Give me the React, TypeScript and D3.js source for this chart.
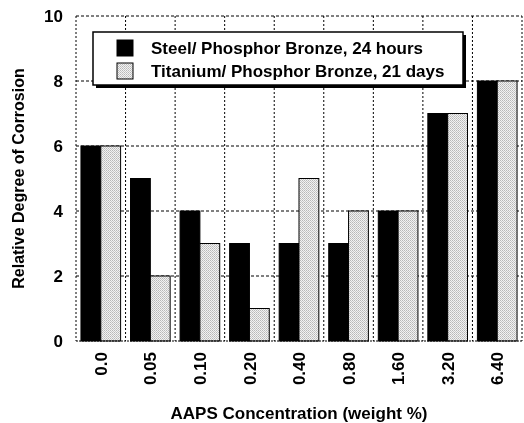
import { useRef, useEffect } from 'react';
import * as d3 from 'd3';

const categories = ["0.0", "0.05", "0.10", "0.20", "0.40", "0.80", "1.60", "3.20", "6.40"];
const steelValues = [6, 5, 4, 3, 3, 3, 4, 7, 8];
const titaniumValues = [6, 2, 3, 1, 5, 4, 4, 7, 8];
const seriesNames = ["Steel/ Phosphor Bronze, 24 hours", "Titanium/ Phosphor Bronze, 21 days"];
const yTicks = [0, 2, 4, 6, 8, 10];

const FONT = "'Liberation Sans', Arial, Helvetica, sans-serif";

export default function App() {
  const svgRef = useRef<SVGSVGElement | null>(null);

  useEffect(() => {
    const width = 524, height = 423;
    const margin = { top: 16, right: 2, bottom: 82, left: 76 };
    const innerWidth = width - margin.left - margin.right;
    const innerHeight = height - margin.top - margin.bottom;

    d3.select(svgRef.current).selectAll("*").remove();
    const svg = d3.select(svgRef.current)
      .attr("width", width)
      .attr("height", height);

    // pattern for titanium bars
    const defs = svg.append("defs");
    const pat = defs.append("pattern")
      .attr("id", "tiPat")
      .attr("width", 2)
      .attr("height", 2)
      .attr("patternUnits", "userSpaceOnUse");
    pat.append("rect").attr("width", 2).attr("height", 2).attr("fill", "#f2f2f2");
    pat.append("rect").attr("width", 1).attr("height", 1).attr("fill", "#b8b8b8");
    pat.append("rect").attr("x", 1).attr("y", 1).attr("width", 1).attr("height", 1).attr("fill", "#c8c8c8");

    const g = svg.append("g")
      .attr("transform", `translate(${margin.left},${margin.top})`);

    const xScale = d3.scaleBand<string>()
      .domain(categories)
      .range([0, innerWidth])
      .paddingInner(0.2)
      .paddingOuter(0.1);
    const bandStep = xScale.step();
    const xSub = d3.scaleBand<number>()
      .domain([0, 1])
      .range([0, xScale.bandwidth()]);

    const yScale = d3.scaleLinear()
      .domain([0, 10])
      .range([innerHeight, 0]);

    // horizontal gridlines
    g.selectAll(".hgrid")
      .data(yTicks.filter(t => t > 0))
      .enter().append("line")
      .attr("x1", 0)
      .attr("x2", innerWidth)
      .attr("y1", d => yScale(d))
      .attr("y2", d => yScale(d))
      .attr("stroke", "#000")
      .attr("stroke-width", 1)
      .attr("stroke-dasharray", "3,2");

    // vertical gridlines at category boundaries
    const boundaries = d3.range(categories.length + 1).map(i => i * bandStep);
    g.selectAll(".vgrid")
      .data(boundaries)
      .enter().append("line")
      .attr("x1", d => d)
      .attr("x2", d => d)
      .attr("y1", 0)
      .attr("y2", innerHeight)
      .attr("stroke", "#000")
      .attr("stroke-width", 1)
      .attr("stroke-dasharray", "2,2");

    // bars
    const rows = categories.map((c, i) => ({ c, v: [steelValues[i], titaniumValues[i]] }));
    rows.forEach(r => {
      r.v.forEach((v, k) => {
        g.append("rect")
          .attr("x", (xScale(r.c) || 0) + (xSub(k) || 0))
          .attr("y", yScale(v))
          .attr("width", xSub.bandwidth())
          .attr("height", innerHeight - yScale(v))
          .attr("fill", k === 0 ? "#000" : "url(#tiPat)")
          .attr("stroke", "#000")
          .attr("stroke-width", 1);
      });
    });

    // bottom axis line
    g.append("line")
      .attr("x1", 0).attr("x2", innerWidth)
      .attr("y1", innerHeight).attr("y2", innerHeight)
      .attr("stroke", "#000")
      .attr("stroke-dasharray", "2,1");

    // y tick labels
    g.selectAll(".ylab")
      .data(yTicks)
      .enter().append("text")
      .attr("x", -13)
      .attr("y", d => yScale(d))
      .attr("dy", "0.36em")
      .attr("text-anchor", "end")
      .style("font-family", FONT)
      .style("font-weight", "bold")
      .style("font-size", "17px")
      .text(d => d);

    // x tick labels (rotated)
    g.selectAll(".xlab")
      .data(categories)
      .enter().append("text")
      .attr("transform", d => `translate(${(xScale(d) || 0) + xScale.bandwidth() / 2},${innerHeight + 11}) rotate(-90)`)
      .attr("dy", "0.36em")
      .attr("text-anchor", "end")
      .style("font-family", FONT)
      .style("font-weight", "bold")
      .style("font-size", "17px")
      .text(d => d);

    // axis titles
    svg.append("text")
      .attr("transform", `translate(18,${margin.top + innerHeight / 2}) rotate(-90)`)
      .attr("dy", "0.36em")
      .attr("text-anchor", "middle")
      .style("font-family", FONT)
      .style("font-weight", "bold")
      .style("font-size", "16px")
      .text("Relative Degree of Corrosion");

    svg.append("text")
      .attr("x", margin.left + innerWidth / 2)
      .attr("y", 419)
      .attr("text-anchor", "middle")
      .style("font-family", FONT)
      .style("font-weight", "bold")
      .style("font-size", "17px")
      .text("AAPS Concentration (weight %)");

    // legend
    const lx = 93, ly = 32, lw = 370, lh = 53;
    svg.append("rect")
      .attr("x", lx + 3).attr("y", ly + 3)
      .attr("width", lw).attr("height", lh)
      .attr("fill", "#000");
    svg.append("rect")
      .attr("x", lx).attr("y", ly)
      .attr("width", lw).attr("height", lh)
      .attr("fill", "#fff")
      .attr("stroke", "#000")
      .attr("stroke-width", 1.5);
    seriesNames.forEach((name, i) => {
      const cy = 48 + i * 23;
      svg.append("rect")
        .attr("x", 117).attr("y", cy - 8)
        .attr("width", 16).attr("height", 16)
        .attr("fill", i === 0 ? "#000" : "url(#tiPat)")
        .attr("stroke", "#000");
      svg.append("text")
        .attr("x", 151).attr("y", cy)
        .attr("dy", "0.36em")
        .style("font-family", FONT)
        .style("font-weight", "bold")
        .style("font-size", "17px")
        .text(name);
    });
  }, []);

  return (
    <div style={{ position: "fixed", left: 0, top: 0 }}>
      <svg ref={svgRef} style={{ display: "block" }}></svg>
    </div>
  );
}
